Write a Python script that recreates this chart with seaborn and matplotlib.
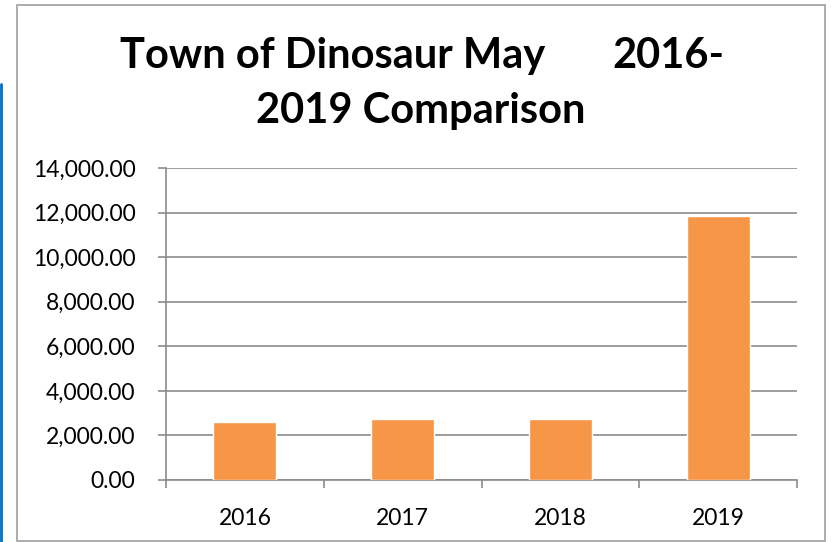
import matplotlib
matplotlib.use("Agg")
import matplotlib.pyplot as plt
import pandas as pd
import seaborn as sns
from matplotlib.patches import Rectangle
from matplotlib.lines import Line2D
from matplotlib.ticker import FuncFormatter, MultipleLocator, FixedLocator

years = ["2016", "2017", "2018", "2019"]
amounts = [2615.0, 2725.0, 2738.0, 11860.0]

title_left = "Town of Dinosaur May"
title_right = "2016-"
title_line2 = "2019 Comparison"

sns.set_theme(style="white")
plt.rcParams["font.family"] = ["Lato", "DejaVu Sans"]

W, H = 831, 542
fig = plt.figure(figsize=(W / 100, H / 100), dpi=100)
fig.patch.set_facecolor("white")

# chart frame and the blue line at the left edge
fig.add_artist(Rectangle((17 / W, 1 - 541 / H), (825 - 17) / W, (541 - 5) / H,
                         transform=fig.transFigure, fill=False,
                         edgecolor="#a6a6a6", linewidth=1.3))
fig.add_artist(Line2D([1 / W, 1 / W], [0, 1 - 84 / H], transform=fig.transFigure,
                      color="#0070c0", linewidth=2))

ax = fig.add_axes([166 / W, 1 - 480 / H, 631 / W, 312 / H])
df = pd.DataFrame({"year": years, "amount": amounts})
sns.barplot(data=df, x="year", y="amount", color="#f79646", saturation=1,
            width=0.4, ax=ax, zorder=3)

ax.set_xlim(-0.5, len(years) - 0.5)
ax.set_ylim(0, 14000)
ax.yaxis.set_major_locator(MultipleLocator(2000))
ax.yaxis.set_major_formatter(FuncFormatter(lambda v, p: f"{v:,.2f}"))
ax.grid(axis="y", color="#8c8c8c", linewidth=1.2, zorder=0)
ax.set_axisbelow(True)

for side in ["top", "right"]:
    ax.spines[side].set_visible(False)
for side in ["left", "bottom"]:
    ax.spines[side].set_color("#8c8c8c")
    ax.spines[side].set_linewidth(1.2)

ax.xaxis.set_minor_locator(FixedLocator([i - 0.5 for i in range(len(years) + 1)]))
ax.tick_params(axis="x", which="major", length=0, pad=20, labelsize=16.5, colors="black")
ax.tick_params(axis="x", which="minor", bottom=True, length=6, width=1.2,
               color="#8c8c8c", direction="out")
ax.tick_params(axis="y", length=6, width=1.2, color="#8c8c8c", pad=16, labelsize=16.5,
               labelcolor="black", left=True)
ax.set_xlabel("")
ax.set_ylabel("")

title_style = dict(fontsize=30, fontweight="bold", color="black", va="baseline")
fig.text(120 / W, 1 - 68 / H, title_left, ha="left", **title_style)
fig.text(612 / W, 1 - 68 / H, title_right, ha="left", **title_style)
fig.text(421 / W, 1 - 123 / H, title_line2, ha="center", **title_style)

fig.savefig("out.png", dpi=100, facecolor="white")
